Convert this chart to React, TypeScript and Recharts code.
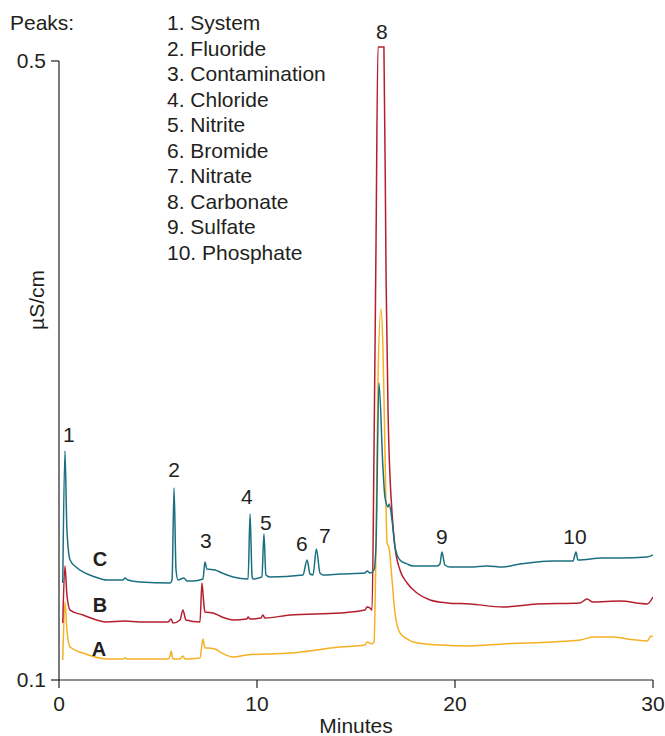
import React from "react";
import {
	LineChart,
	Line,
	XAxis,
	YAxis,
	ReferenceDot,
	ReferenceLine,
	Label,
} from "recharts";

// retention time (min) and conductivity (µS/cm)
const timeC = [0.19, 0.3, 0.4, 0.56, 0.86, 1.21, 1.82, 2.42, 3.23, 3.33, 3.48, 4.09, 5.61, 5.71, 5.81, 5.91, 6.01, 6.31, 6.46, 6.77, 7.27, 7.37, 7.47, 7.88, 8.23, 8.79, 9.55, 9.65, 9.75, 9.8, 10.25, 10.35, 10.45, 10.66, 12.32, 12.53, 12.68, 12.83, 13.0, 13.18, 13.33, 14.19, 15.45, 15.56, 15.71, 15.91, 16.01, 16.16, 16.36, 16.46, 16.62, 16.67, 16.82, 16.97, 17.22, 17.58, 17.88, 19.09, 19.24, 19.34, 19.49, 19.75, 20.76, 21.62, 22.42, 23.28, 24.14, 24.95, 25.96, 26.11, 26.21, 27.47, 28.33, 29.7, 30.0];
const sigC = [0.1627, 0.248, 0.1969, 0.1775, 0.173, 0.1698, 0.1666, 0.1646, 0.1646, 0.1659, 0.1646, 0.1633, 0.1627, 0.1646, 0.2241, 0.1711, 0.1646, 0.1659, 0.164, 0.164, 0.1653, 0.1763, 0.1717, 0.1711, 0.1691, 0.1666, 0.1653, 0.2073, 0.1672, 0.1653, 0.1666, 0.1943, 0.1679, 0.1666, 0.1679, 0.1775, 0.1685, 0.1679, 0.1847, 0.1691, 0.1679, 0.1685, 0.1691, 0.1704, 0.1691, 0.1711, 0.1872, 0.2919, 0.2376, 0.2183, 0.2118, 0.2137, 0.2034, 0.1859, 0.1775, 0.175, 0.1737, 0.1737, 0.175, 0.1827, 0.1743, 0.173, 0.173, 0.1737, 0.173, 0.175, 0.1763, 0.1769, 0.1769, 0.1827, 0.1775, 0.1788, 0.1788, 0.1795, 0.1808];

const timeB = [0.19, 0.3, 0.4, 0.56, 1.21, 2.42, 3.33, 4.09, 5.51, 5.66, 5.76, 6.11, 6.26, 6.41, 7.12, 7.22, 7.32, 7.37, 7.78, 8.23, 8.79, 9.49, 9.55, 9.65, 10.2, 10.3, 10.4, 11.67, 14.19, 15.45, 15.56, 15.71, 15.81, 15.91, 16.01, 16.11, 16.41, 16.52, 16.62, 16.82, 16.97, 17.22, 17.58, 18.08, 18.74, 19.6, 20.76, 22.42, 24.14, 26.31, 26.67, 26.97, 28.33, 29.7, 30.0];
const sigB = [0.1368, 0.1737, 0.1549, 0.1452, 0.142, 0.1375, 0.1381, 0.1375, 0.1375, 0.1394, 0.1368, 0.1388, 0.1452, 0.1388, 0.1375, 0.1627, 0.1485, 0.1439, 0.1433, 0.1407, 0.1388, 0.1394, 0.1407, 0.1394, 0.1401, 0.142, 0.1401, 0.142, 0.1433, 0.1452, 0.1472, 0.1465, 0.1452, 0.2486, 0.3805, 0.5091, 0.5091, 0.3585, 0.2725, 0.2079, 0.1859, 0.1711, 0.1627, 0.1562, 0.1517, 0.1498, 0.1491, 0.1472, 0.1491, 0.1498, 0.1523, 0.1504, 0.151, 0.1491, 0.1536];

const timeA = [0.19, 0.3, 0.4, 0.56, 1.21, 2.42, 3.23, 3.33, 3.48, 4.09, 5.51, 5.61, 5.66, 5.76, 6.11, 6.26, 6.36, 7.12, 7.27, 7.37, 7.47, 7.88, 8.23, 8.79, 9.49, 11.67, 14.19, 15.45, 15.56, 15.81, 15.91, 16.01, 16.11, 16.26, 16.36, 16.46, 16.57, 16.67, 16.82, 16.97, 17.22, 17.58, 17.88, 19.24, 20.76, 22.42, 24.95, 26.31, 26.97, 27.98, 28.69, 29.7, 29.9, 30.0];
const sigA = [0.1129, 0.1504, 0.1323, 0.1213, 0.1174, 0.1136, 0.1136, 0.1142, 0.1136, 0.1136, 0.1136, 0.1155, 0.1187, 0.1136, 0.1136, 0.1155, 0.1136, 0.1142, 0.1265, 0.1207, 0.1207, 0.12, 0.1174, 0.1149, 0.1162, 0.1174, 0.1213, 0.1226, 0.1246, 0.1233, 0.1246, 0.1859, 0.2939, 0.3398, 0.3152, 0.2506, 0.1885, 0.1853, 0.1646, 0.1433, 0.1304, 0.1265, 0.1246, 0.1226, 0.122, 0.1233, 0.1246, 0.1258, 0.1278, 0.1278, 0.1265, 0.1252, 0.1284, 0.1278];

const peakNames = ["System", "Fluoride", "Contamination", "Chloride", "Nitrite", "Bromide", "Nitrate", "Carbonate", "Sulfate", "Phosphate"];
const peakLabelTime = [0.5, 5.81, 7.42, 9.49, 10.45, 12.27, 13.43, 16.31, 19.34, 26.06];
const peakLabelSig = [0.2583, 0.2363, 0.1898, 0.2183, 0.2015, 0.1879, 0.1931, 0.5187, 0.1924, 0.1924];

const traceNames = ["C", "B", "A"];
const traceLabelTime = [2.07, 2.07, 2.02];
const traceLabelSig = [0.1782, 0.1485, 0.12];

const xTicks = [0, 10, 20, 30];
const yTicks = [0.1, 0.5];

const ink = "#231f20";
const colors = { C: "#1b6f80", B: "#b41f2e", A: "#f6b024" };
const fs = 21;

const toPoints = (ts: number[], vs: number[]) => ts.map((t, i) => ({ t, v: vs[i] }));
const traceC = toPoints(timeC, sigC);
const traceB = toPoints(timeB, sigB);
const traceA = toPoints(timeA, sigA);

export default function App() {
	return (
		<div
			style={{
				position: "absolute",
				left: 0,
				top: 0,
				width: 665,
				height: 736,
				fontFamily: "'Liberation Sans', Arial, sans-serif",
				background: "#fff",
			}}
		>
			<LineChart
				width={665}
				height={736}
				margin={{ top: 45.5, right: 12, bottom: 0, left: 0 }}
			>
				<XAxis
					type="number"
					dataKey="t"
					domain={[0, 30]}
					ticks={xTicks}
					allowDataOverflow
					stroke={ink}
					strokeWidth={1.2}
					tickSize={8}
					tickMargin={8}
					height={56}
					tick={{ fontSize: fs, fill: ink }}
				>
					<Label
						value="Minutes"
						position="insideBottom"
						offset={3}
						style={{ fontSize: fs, fill: ink }}
					/>
				</XAxis>
				<YAxis
					type="number"
					dataKey="v"
					domain={[0.1, 0.51]}
					ticks={yTicks}
					axisLine={false}
					stroke={ink}
					strokeWidth={1.2}
					tickSize={8}
					tickMargin={5}
					width={59}
					tick={{ fontSize: fs, fill: ink }}
				/>
				<ReferenceLine
					segment={[
						{ x: 0, y: 0.1 },
						{ x: 0, y: 0.5 },
					]}
					stroke={ink}
					strokeWidth={1.2}
					ifOverflow="visible"
				/>
				<Line
					data={traceA}
					dataKey="v"
					type="monotone"
					stroke={colors.A}
					strokeWidth={1.5}
					dot={false}
					isAnimationActive={false}
				/>
				<Line
					data={traceB}
					dataKey="v"
					type="monotone"
					stroke={colors.B}
					strokeWidth={1.5}
					dot={false}
					isAnimationActive={false}
				/>
				<Line
					data={traceC}
					dataKey="v"
					type="monotone"
					stroke={colors.C}
					strokeWidth={1.5}
					dot={false}
					isAnimationActive={false}
				/>
				{peakNames.map((_, i) => (
					<ReferenceDot
						key={"p" + i}
						x={peakLabelTime[i]}
						y={peakLabelSig[i]}
						r={0}
						stroke="none"
						ifOverflow="visible"
						label={{
							value: String(i + 1),
							position: "center",
							fill: ink,
							fontSize: fs,
						}}
					/>
				))}
				{traceNames.map((name, i) => (
					<ReferenceDot
						key={"t" + name}
						x={traceLabelTime[i]}
						y={traceLabelSig[i]}
						r={0}
						stroke="none"
						ifOverflow="visible"
						label={{
							value: name,
							position: "center",
							fill: ink,
							fontSize: 20,
							fontWeight: "bold",
						}}
					/>
				))}
			</LineChart>
			<svg
				width={665}
				height={736}
				style={{ position: "absolute", left: 0, top: 0, pointerEvents: "none" }}
			>
				<text x={10} y={30} fontSize={fs} fill={ink}>
					Peaks:
				</text>
				{peakNames.map((name, i) => (
					<text key={name} x={167} y={30 + i * 25.5} fontSize={fs} fill={ink}>
						{`${i + 1}. ${name}`}
					</text>
				))}
				<text
					x={44}
					y={300}
					fontSize={fs}
					fill={ink}
					textAnchor="middle"
					transform="rotate(-90, 44, 300)"
				>
					µS/cm
				</text>
			</svg>
		</div>
	);
}
